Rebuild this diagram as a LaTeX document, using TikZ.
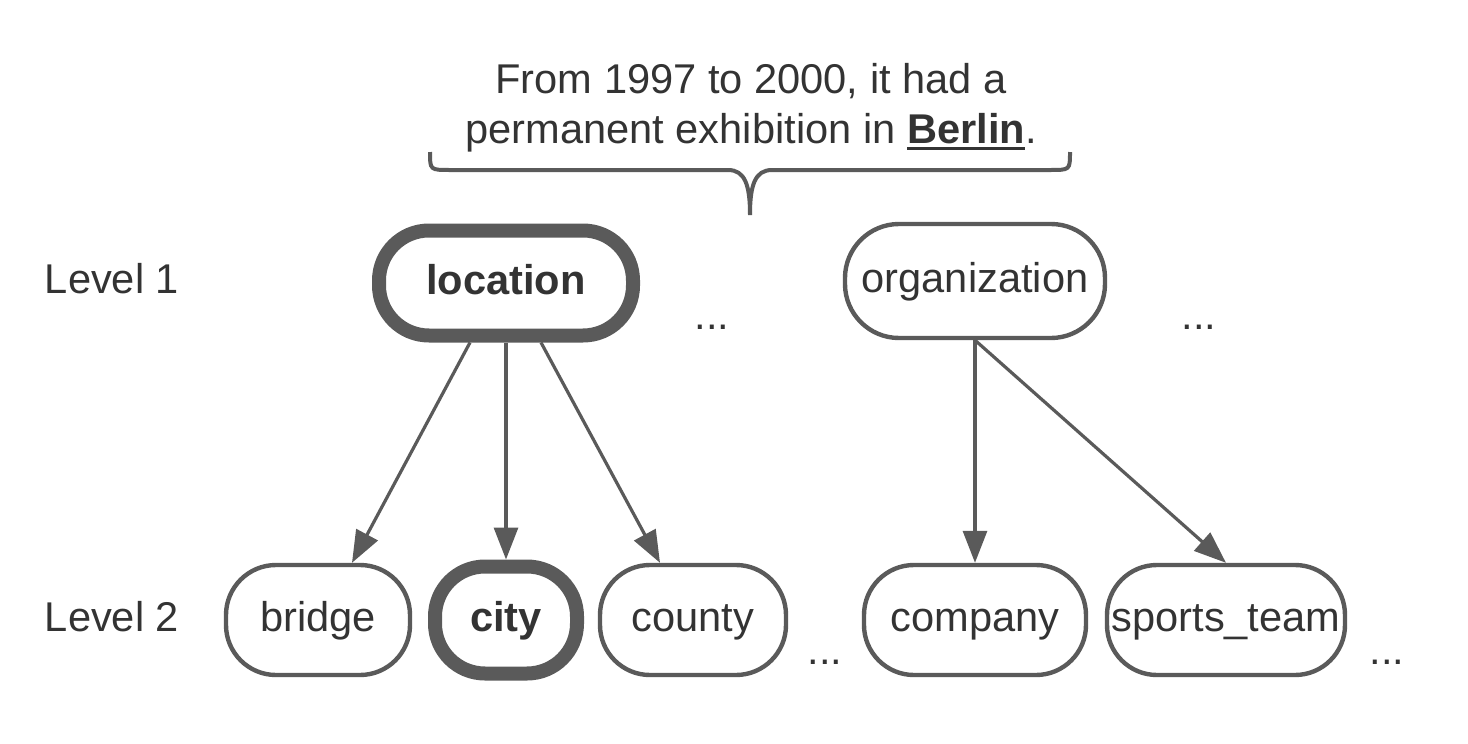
\documentclass[tikz,border=0pt]{standalone}
\usepackage{fontspec}
\setmainfont{Liberation Sans}
\usetikzlibrary{arrows.meta,calc}
\definecolor{linegray}{HTML}{5A5A5A}
\definecolor{textgray}{HTML}{333333}
\newcommand{\ulword}[1]{\setbox0\hbox{#1}\rlap{\rule[-3pt]{\wd0}{1.5pt}}\box0}

\begin{document}
\begin{tikzpicture}[x=0.5pt, y=-0.5pt,
  typebox/.style={draw=linegray, line width=2.2pt, rounded corners=25pt, minimum height=55pt, inner sep=0pt, text height=1.3em, text depth=0.18em},
  picked/.style={line width=7pt},
  arrowline/.style={draw=linegray, line width=1.6pt, -{Triangle[length=16pt,width=12pt]}}]
	\tikzstyle{every node}=[font=\fontsize{20.8}{25}\selectfont, text=textgray]

	\useasboundingbox (0,0) rectangle (1468,744);

	%sentence
	\node[align=center] (sentence) at (751,108) {From 1997 to 2000, it had a\\permanent exhibition in \ulword{\textbf{Berlin}}.};
	\draw[linegray, line width=2pt] (430,152) .. controls (430,170) .. (450,170) -- (728,170)
		.. controls (745,170) and (750,185) .. (750,215)
		.. controls (750,185) and (755,170) .. (772,170) -- (1050,170)
		.. controls (1070,170) .. (1070,152);

	%levels
	\node (level1) at (112,279) {Level 1};
	\node (level2) at (112,617) {Level 2};

	%level 1 types
	\node[typebox, picked, minimum width=127pt, minimum height=52.5pt] (location) at (506,283) {\textbf{location}};
	\node[typebox, minimum width=130pt, minimum height=57pt, rounded corners=27pt] (organization) at (975,281) {organization};
	\node (dots1) at (712,327) {...};
	\node (dots2) at (1199,327) {...};

	%level 2 types
	\node[typebox, minimum width=92pt] (bridge) at (318,620) {bridge};
	\node[typebox, picked, minimum width=71pt, minimum height=53.5pt] (city) at (506,620) {\textbf{city}};
	\node[typebox, minimum width=93pt] (county) at (693,620) {county};
	\node[typebox, minimum width=111pt] (company) at (975,620) {company};
	\node[typebox, minimum width=119pt] (sportsteam) at (1226,620) {sports\_team};
	\node (dots3) at (825,662) {...};
	\node (dots4) at (1387,662) {...};

	%arrows
	\draw[arrowline] ($(location.south)+(-36,0)$) -- ($(bridge.north)+(34,0)$);
	\draw[arrowline] (location.south) -- (city.north);
	\draw[arrowline] ($(location.south)+(35,0)$) -- ($(county.north)+(-33,0)$);
	\draw[arrowline] (organization.south) -- (company.north);
	\draw[arrowline] (organization.south) -- (sportsteam.north);
\end{tikzpicture}
\end{document}
